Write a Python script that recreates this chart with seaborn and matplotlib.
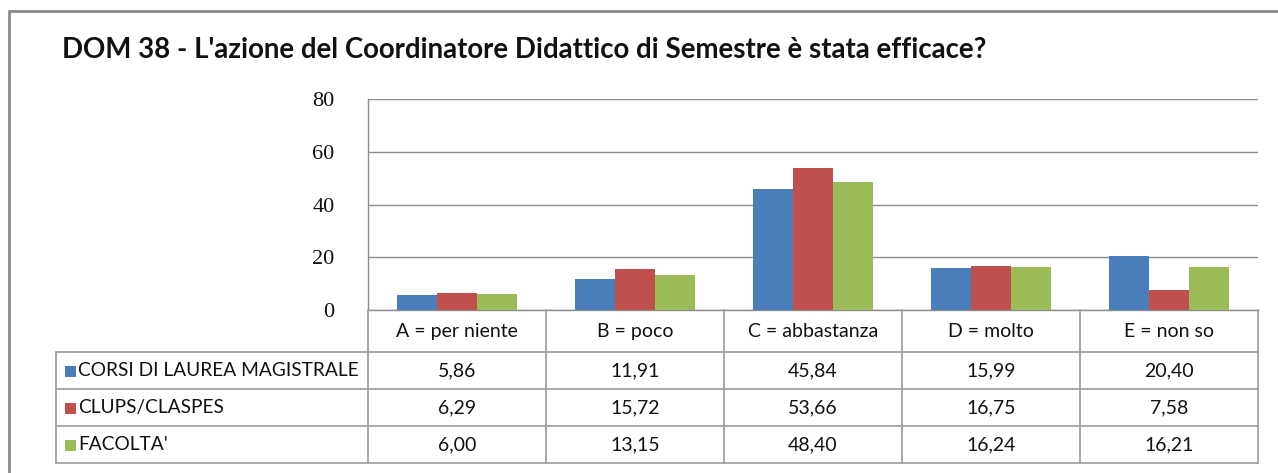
import matplotlib
matplotlib.use("Agg")
import matplotlib.pyplot as plt
from matplotlib.patches import Rectangle
from matplotlib.lines import Line2D
import pandas as pd
import seaborn as sns

# Data
categories = ["A = per niente", "B = poco", "C = abbastanza", "D = molto", "E = non so"]
series_names = ["CORSI DI LAUREA MAGISTRALE", "CLUPS/CLASPES", "FACOLTA'"]
corsi = [5.86, 11.91, 45.84, 15.99, 20.40]
clups = [6.29, 15.72, 53.66, 16.75, 7.58]
facolta = [6.00, 13.15, 48.40, 16.24, 16.21]
y_ticks = [0, 20, 40, 60, 80]
title = "DOM 38 - L'azione del Coordinatore Didattico di Semestre è stata efficace?"

colors = ["#4A7EBB", "#C0504D", "#9BBB59"]
grid_col = "#8C8C8C"

sns.set_theme(style="white")
plt.rcParams["font.family"] = ["Lato", "DejaVu Sans"]

W, H = 1278, 473
fig = plt.figure(figsize=(W / 100, H / 100), dpi=100)

# pixel helpers
def fx(px):
    return px / W

def fy(py):
    return 1 - py / H

left, right, top, bottom = 368, 1258, 99, 310
ax = fig.add_axes([fx(left), fy(bottom), fx(right) - fx(left), fy(top) - fy(bottom)])

values = [corsi, clups, facolta]
df = pd.DataFrame({
    "categoria": [c for s in values for c in categories],
    "serie": [n for n, s in zip(series_names, values) for _ in s],
    "valore": [v for s in values for v in s],
})

sns.barplot(data=df, x="categoria", y="valore", hue="serie", order=categories,
            hue_order=series_names, palette=colors, width=0.67, saturation=1,
            legend=False, ax=ax, zorder=3, edgecolor="none")

ax.set_ylim(0, 80)
ax.set_xlim(-0.5, len(categories) - 0.5)
ax.set_yticks(y_ticks)
ax.set_yticklabels([str(t) for t in y_ticks], fontfamily="Liberation Serif", fontsize=16,
                   color="#111111")
ax.tick_params(axis="y", length=0, pad=24)
ax.set_xticks([])
ax.set_xlabel("")
ax.set_ylabel("")
ax.yaxis.grid(True, color=grid_col, linewidth=1.0, zorder=0)
ax.set_axisbelow(True)
for side in ["top", "right"]:
    ax.spines[side].set_visible(False)
for side in ["left", "bottom"]:
    ax.spines[side].set_color(grid_col)
    ax.spines[side].set_linewidth(1.0)

# Data table below the axes
trans = fig.transFigure
row_lines = [310, 352, 389, 426, 463]
tbl_left = 56
col_edges = [left + i * (right - left) / len(categories) for i in range(len(categories) + 1)]
lc = "#9A9A9A"

# header row verticals
for x in col_edges:
    fig.add_artist(Line2D([fx(x), fx(x)], [fy(310), fy(352)], color=lc, lw=1.2, transform=trans))
# body horizontals
for y in row_lines[1:]:
    fig.add_artist(Line2D([fx(tbl_left), fx(right)], [fy(y), fy(y)], color=lc, lw=1.2, transform=trans))
# body verticals
for x in [tbl_left] + col_edges:
    fig.add_artist(Line2D([fx(x), fx(x)], [fy(352), fy(463)], color=lc, lw=1.2, transform=trans))

txt_size = 14
for i, c in enumerate(categories):
    xc = (col_edges[i] + col_edges[i + 1]) / 2
    fig.text(fx(xc), fy(331), c, ha="center", va="center", fontsize=txt_size, color="#111111")

for r, (name, vals, col) in enumerate(zip(series_names, values, colors)):
    y0, y1 = row_lines[r + 1], row_lines[r + 2]
    yc = (y0 + y1) / 2
    fig.add_artist(Rectangle((fx(65), fy(yc + 6)), fx(11), fy(0) - fy(11), facecolor=col,
                             edgecolor="none", transform=trans))
    fig.text(fx(78), fy(yc), name, ha="left", va="center", fontsize=13.8, color="#111111")
    for i, v in enumerate(vals):
        xc = (col_edges[i] + col_edges[i + 1]) / 2
        fig.text(fx(xc), fy(yc), f"{v:.2f}".replace(".", ","), ha="center", va="center",
                 fontsize=txt_size, color="#111111")

# Title
fig.text(fx(62), fy(50), title, ha="left", va="center", fontsize=19.9, fontweight="bold",
         color="#111111")

# Chart frame
fig.add_artist(Rectangle((fx(9), fy(H + 20)), fx(W + 20), fy(11) - fy(H + 20), facecolor="none",
                         edgecolor="#8A8A8A", lw=2, transform=trans))

fig.savefig("out.png", dpi=100, facecolor="white")
